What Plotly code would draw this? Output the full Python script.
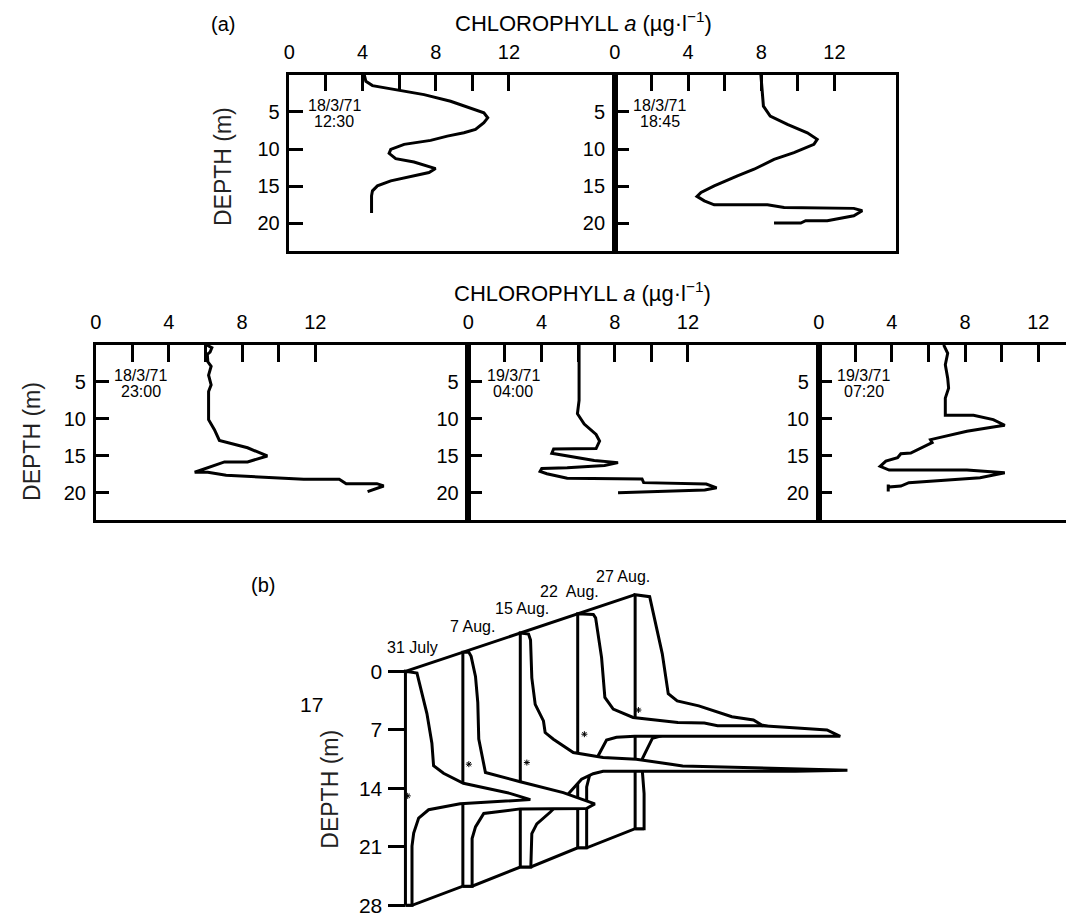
import plotly.graph_objects as go

W, H = 1066, 917
FONT = "Liberation Sans, Arial, Helvetica, sans-serif"

# ---------------- Panel (a): chlorophyll a profiles ----------------
a1_depth = [0, 0.9, 1.47, 2.1, 2.68, 3.57, 4.69, 5.13, 5.8, 6.47, 7.36, 7.81, 8.26, 8.84, 9.37,
            10.04, 10.58, 11.29, 11.74, 12.27, 12.63, 13.16, 13.83, 14.28, 14.95, 15.62, 16.29, 18.6]
a1_chl = [4.09, 4.18, 4.54, 6.09, 7.36, 8.81, 10.08, 10.63, 10.84, 10.63, 10.17, 9.54, 8.63, 7.72, 6.27,
          5.54, 5.45, 5.81, 6.81, 7.54, 7.99, 7.63, 6.27, 5.54, 4.81, 4.54, 4.49, 4.49]

a2_depth = [0, 2.23, 4.24, 5.58, 6.69, 7.81, 8.7, 9.37, 10.48, 11.38, 12.72, 13.61, 14.95, 15.84, 16.37,
            16.96, 17.5, 17.5, 17.85, 17.98, 18.3, 18.97, 19.64, 19.64, 19.95, 19.95]
a2_chl = [7.98, 8.07, 8.12, 8.49, 9.43, 10.52, 11.06, 10.88, 9.79, 8.7, 7.61, 6.7, 5.43, 4.71, 4.49,
          4.89, 5.43, 8.34, 9.25, 13.06, 13.52, 13.06, 11.61, 10.43, 10.16, 8.7]

a3_depth = [0.0, 0.4, 1.0, 1.3, 2.3, 2.9, 4.1, 5.4, 6.3, 10.1, 11.45, 12.9, 13.9, 15.0, 15.8, 15.8,
            17.2, 17.2, 17.6, 17.9, 18.15, 18.15, 18.74, 18.74, 19.05, 19.81]
a3_chl = [6.04, 6.35, 6.25, 6.1, 6.13, 6.31, 6.17, 6.31, 6.17, 6.17, 6.49, 6.76, 8.3, 9.38, 8.3, 7.04,
          5.41, 6.13, 7.13, 9.57, 11.37, 13.31, 13.69, 15.37, 15.74, 14.86]

a4_depth = [0, 7.5, 9.3, 10.7, 12.1, 13.0, 14.0, 14.05, 14.65, 15.6, 15.9, 16.3, 16.6, 16.7, 17.1,
            17.4, 18.0, 18.1, 18.6, 18.7, 18.8, 19.3, 19.6, 19.97]
a4_chl = [6.05, 6.05, 5.96, 6.33, 6.98, 7.17, 6.98, 4.66, 4.56, 6.88, 8.18, 7.44, 5.4, 4.01, 3.92,
          4.29, 5.4, 9.49, 9.58, 10.79, 13.0, 13.57, 12.92, 8.18]

a5_depth = [0, 1.14, 2.7, 4.5, 5.85, 7.2, 9.5, 9.5, 10.1, 10.86, 11.1, 11.67, 12.8, 13.2, 14.6, 14.7,
            15.25, 15.7, 16.4, 16.9, 16.9, 17.27, 17.94, 18.4, 18.6, 19.06, 19.2, 18.85, 19.8]
a5_chl = [6.83, 7.05, 6.92, 7.05, 7.1, 6.92, 6.92, 8.46, 9.54, 10.17, 9.54, 8.1, 6.11, 6.2, 5.03, 4.49,
          4.31, 3.67, 3.36, 3.85, 8.1, 10.17, 8.82, 6.47, 4.93, 4.49, 3.8, 3.8, 3.8]

a_dates = ["18/3/71", "18/3/71", "18/3/71", "19/3/71", "19/3/71"]
a_times = ["12:30", "18:45", "23:00", "04:00", "07:20"]

x_tickvals = [0, 2, 4, 6, 8, 10, 12]
x_ticktext = ["0", "", "4", "", "8", "", "12"]
y_tickvals = [5, 10, 15, 20]

# ---------------- Panel (b): perspective profiles ----------------
b_dates = ["31 July", "7 Aug.", "15 Aug.", "22  Aug.", "27 Aug."]
b_jul31_chl = [0, 1.16, 1.43, 2.16, 2.66, 2.83, 3.83, 5.83, 10.5, 12.56, 5.5, 3.83, 2.33, 1.33, 0.83, 0.66, 0.66]
b_jul31_depth = [0, 0.2, 1.48, 5.05, 8.6, 11.3, 12.2, 13.4, 14.6, 15.35, 15.85, 16.25, 16.56, 17.56, 19.35, 20.9, 28]
b_aug7_chl = [0, 0.6, 0.83, 1.27, 1.5, 1.6, 2.27, 5.77, 10.1, 13.27, 12.43, 5.77, 2.1, 1.27, 0.93, 0.93]
b_aug7_depth = [0, 0, 0.5, 2.9, 6.0, 10.4, 14.4, 15.5, 16.8, 18.15, 18.7, 18.75, 19.3, 20.9, 22.3, 28]
b_aug15_chl = [0, 0.83, 1.03, 1.16, 1.5, 2.33, 2.5, 3.33, 5.33, 8.33, 11.66, 16.33, 27.66, 32.9, 27.66, 16.33,
               8.33, 7.33, 6.16, 4.66, 3.0, 1.66, 1.16, 1.06]
b_aug15_depth = [0, 0.12, 0.83, 5.36, 8.54, 10.52, 11.91, 12.71, 14.3, 14.9, 15.1, 15.9, 16.2, 16.42, 16.53, 16.53,
                 16.55, 16.84, 17.5, 19.46, 21.45, 22.84, 24.0, 28]
b_aug22_chl = [0, 1.57, 1.8, 2.4, 2.57, 2.73, 3.57, 5.57, 10.07, 12.73, 14.07, 18.4, 22.07, 25.07, 26.4, 5.73,
               3.9, 2.9, 2.07, 1.23, 0.9, 0.9]
b_aug22_depth = [0, 0.08, 0.48, 5.24, 7.63, 10.0, 11.4, 12.4, 13.0, 13.07, 13.38, 13.38, 13.67, 13.9, 14.65, 14.65,
                 14.77, 15.1, 16.95, 19.15, 20.7, 28]
b_aug27_chl = [0, 1.46, 2.73, 3.33, 4.23, 6.4, 9.73, 11.9, 12.73, 14.73, 6.73, 2.73, 1.73, 0.73, 0.73, 0.9, 0.9]
b_aug27_depth = [0, 0.24, 7.08, 11.84, 12.71, 13.3, 14.6, 15.0, 15.6, 16.17, 16.5, 16.85, 17.2, 19.6, 21.2, 23.8, 28]
b_star_chl = [0.23, 0.6, 0.66, 0.67, 0.33]
b_star_depth = [14.9, 13.4, 15.5, 14.4, 13.8]
b_depth_ticks = [0, 7, 14, 21, 28]

b_profiles = [(b_jul31_chl, b_jul31_depth), (b_aug7_chl, b_aug7_depth), (b_aug15_chl, b_aug15_depth),
              (b_aug22_chl, b_aug22_depth), (b_aug27_chl, b_aug27_depth)]
DX, DY = 5.775, -2.2935   # perspective shift per date (chl units, m)

fig = go.Figure()

# --- (a) layout of the five small panels (pixel boxes) ---
panels = [
    (285.0, 612.0, 75.0, 252.0, a1_chl, a1_depth, True),
    (612.3, 895.0, 75.0, 252.0, a2_chl, a2_depth, True),
    (90.2, 465.0, 346.3, 522.7, a3_chl, a3_depth, True),
    (465.0, 817.3, 346.3, 522.7, a4_chl, a4_depth, True),
    (817.3, 1066.0, 346.3, 522.7, a5_chl, a5_depth, False),
]
PXU = 18.4
DMAX = 23.7
TICKF = dict(size=20, color="black", family=FONT)
for k, (x0, x1, y0, y1, chl, dep, mir) in enumerate(panels):
    n = "" if k == 0 else str(k + 1)
    fig.add_trace(go.Scatter(x=chl, y=dep, mode="lines", line=dict(color="black", width=3),
                             xaxis="x" + n, yaxis="y" + n, showlegend=False, hoverinfo="skip"))
    fig.update_layout(**{
        "xaxis" + n: dict(domain=[x0 / W, min(x1 / W, 1.0)], range=[0, (x1 - x0) / PXU], side="top",
                          anchor="y" + n, tickvals=x_tickvals, ticktext=x_ticktext, ticks="inside",
                          ticklen=17, tickwidth=3, tickcolor="black", showline=True, linewidth=2.5,
                          linecolor="black", mirror=True, showgrid=False, zeroline=False,
                          tickfont=TICKF, ticklabelstandoff=5),
        "yaxis" + n: dict(domain=[1 - y1 / H, 1 - y0 / H], range=[DMAX, 0], anchor="x" + n,
                          tickvals=y_tickvals, ticks="inside", ticklen=14, tickwidth=3, tickcolor="black",
                          showline=True, linewidth=2.5, linecolor="black", mirror=mir, showgrid=False,
                          zeroline=False, tickfont=TICKF, ticklabelstandoff=3),
    })
    fig.add_annotation(x=2.45, y=4.1, xref="x" + n, yref="y" + n, text=a_dates[k], showarrow=False,
                       xanchor="center", yanchor="middle", font=dict(size=16, color="black", family=FONT))
    fig.add_annotation(x=2.45, y=6.35, xref="x" + n, yref="y" + n, text=a_times[k], showarrow=False,
                       xanchor="center", yanchor="middle", font=dict(size=16, color="black", family=FONT))

# --- (b) perspective panel ---
bx = "x6"
by = "y6"
fig.add_trace(go.Scatter(x=[i * DX for i in range(5)], y=[i * DY for i in range(5)], mode="lines",
                         line=dict(color="black", width=3), xaxis=bx, yaxis=by, showlegend=False,
                         hoverinfo="skip"))
bot_x, bot_y = [], []
for i, (c, d) in enumerate(b_profiles):
    bot_x += [i * DX, i * DX + c[-1]]
    bot_y += [d[-1] + i * DY, d[-1] + i * DY]
fig.add_trace(go.Scatter(x=bot_x, y=bot_y, mode="lines", line=dict(color="black", width=3),
                         xaxis=bx, yaxis=by, showlegend=False, hoverinfo="skip"))
for i in reversed(range(5)):
    c, d = b_profiles[i]
    px = [i * DX] + [i * DX + v for v in c] + [i * DX]
    py = [d[-1] + i * DY] + [v + i * DY for v in d] + [d[-1] + i * DY]
    fig.add_trace(go.Scatter(x=px, y=py, mode="lines", fill="toself", fillcolor="white",
                             line=dict(color="black", width=3), xaxis=bx, yaxis=by,
                             showlegend=False, hoverinfo="skip"))
fig.add_trace(go.Scatter(x=[i * DX + v for i, v in enumerate(b_star_chl)],
                         y=[i * DY + v for i, v in enumerate(b_star_depth)], mode="markers",
                         marker=dict(symbol="asterisk-open", size=5, color="black",
                                     line=dict(color="black", width=1)),
                         xaxis=bx, yaxis=by, showlegend=False, hoverinfo="skip"))

BX0 = 401.7
fig.update_layout(
    xaxis6=dict(domain=[0, 1], range=[-BX0 / 10, (W - BX0) / 10], visible=False, anchor="y6"),
    yaxis6=dict(domain=[0, 1 - 560 / H], range=[(917 - 674.3) / 8.393, (560 - 674.3) / 8.393],
                anchor="free", position=BX0 / W, tickvals=b_depth_ticks, ticks="outside", ticklen=17,
                tickwidth=2.5, tickcolor="black", showline=False, showgrid=False, zeroline=False,
                tickfont=dict(size=21, color="black", family=FONT), ticklabelstandoff=2,
                ticklabeloverflow="allow"),
)
lab_shift = [(6.6, 24), (9.7, 25.5), (1.3, 25), (-8.5, 22.7), (-11.7, 18.6)]
for i, name in enumerate(b_dates):
    fig.add_annotation(x=i * DX, y=i * DY, xref=bx, yref=by, text=name, showarrow=False,
                       xanchor="center", yanchor="middle",
                       xshift=lab_shift[i][0], yshift=lab_shift[i][1],
                       font=dict(size=16, color="black", family=FONT))

# --- titles and labels ---
chl_title = "CHLOROPHYLL <i>a</i> (µg·l<sup>−1</sup>)"
for (cx, cy) in [(581, 22), (580, 293)]:
    fig.add_annotation(x=cx / W, y=1 - cy / H, xref="paper", yref="paper", text=chl_title,
                       xanchor="center", yanchor="middle",
                       showarrow=False, font=dict(size=22, color="black", family=FONT))
for (cx, cy, fs) in [(219, 167, 23), (26, 443, 23), (325, 793, 23)]:
    fig.add_annotation(x=cx / W, y=1 - cy / H, xref="paper", yref="paper", text="DEPTH (m)",
                       xanchor="center", yanchor="middle",
                       textangle=-90, showarrow=False, font=dict(size=fs, color="#222", family=FONT))
for (txt, cx, cy, fs) in [("(a)", 218, 24, 20), ("(b)", 258, 588, 20), ("17", 307, 708, 21)]:
    fig.add_annotation(x=cx / W, y=1 - cy / H, xref="paper", yref="paper", text=txt,
                       xanchor="center", yanchor="middle",
                       showarrow=False, font=dict(size=fs, color="black", family=FONT))

fig.update_layout(width=W, height=H, margin=dict(l=0, r=0, t=0, b=0), paper_bgcolor="white",
                  plot_bgcolor="rgba(0,0,0,0)", showlegend=False, font=dict(family=FONT, color="black"))

fig.write_html("out.html")
